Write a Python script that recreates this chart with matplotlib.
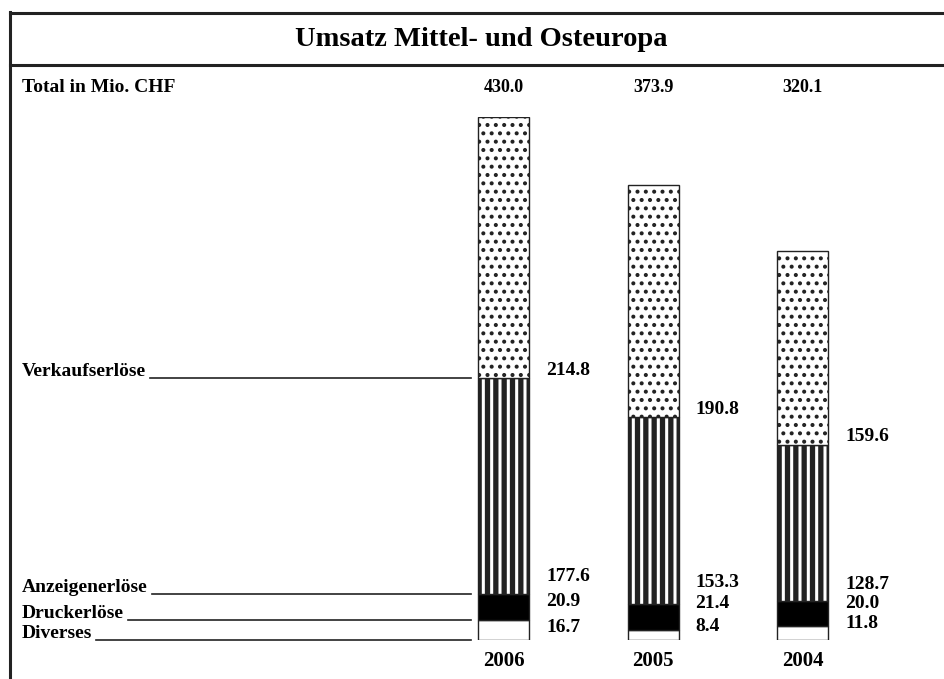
import matplotlib
matplotlib.use("Agg")
import matplotlib.pyplot as plt
import numpy as np
from matplotlib.lines import Line2D

years = ["2006", "2005", "2004"]
totals = [430.0, 373.9, 320.1]
categories = ["Diverses", "Druckerlöse", "Anzeigenerlöse", "Verkaufserlöse"]
diverses = [16.7, 8.4, 11.8]
druck = [20.9, 21.4, 20.0]
anzeigen = [177.6, 153.3, 128.7]
verkauf = [214.8, 190.8, 159.6]

# label heights (data units) for the lower three value labels, per bar
lab_y_anz = [51.8, 46.9, 46.0]
lab_y_druck = [32.0, 30.4, 29.6]
lab_y_div = [9.9, 11.5, 13.5]

W, H = 944, 679
fig = plt.figure(figsize=(W / 100, H / 100), dpi=100)
fig.patch.set_facecolor("white")

label_font = ["Liberation Serif", "DejaVu Serif"]
num_font = ["Liberation Serif", "DejaVu Serif"]

# axes: y=0 at pixel 640, y=430 at pixel 117, bar centres 503.5 / 653 / 802.5 px
ax = fig.add_axes([0, (H - 640) / H, 1, 523 / H])
c0, step = 503.5, 149.5
ax.set_xlim(-c0 / step, (W - c0) / step)
ax.set_ylim(0, 430)
ax.axis("off")

x = np.arange(len(years))
bw = 51 / step
bottom = np.zeros(len(years))
styles = [
    dict(color="white", hatch=None, hlw=1.0),
    dict(color="black", hatch=None, hlw=1.0),
    dict(color="white", hatch="||", hlw=3.8),
    dict(color="white", hatch="..", hlw=1.7),
]
for vals, st in zip([diverses, druck, anzeigen, verkauf], styles):
    plt.rcParams["hatch.linewidth"] = st["hlw"]
    bars = ax.bar(x, vals, bw, bottom=bottom, color=st["color"], edgecolor="#222222",
                  hatch=st["hatch"], linewidth=1.0)
    for p in bars:
        if hasattr(p, "set_hatch_linewidth"):
            p.set_hatch_linewidth(st["hlw"])
    bottom += np.array(vals)

# value labels right of each bar
for i in range(len(years)):
    xl = i + bw / 2 + 17 / step
    ytop_anz = diverses[i] + druck[i] + anzeigen[i]
    for val, yy in [(verkauf[i], ytop_anz + 6.5), (anzeigen[i], lab_y_anz[i]),
                    (druck[i], lab_y_druck[i]), (diverses[i], lab_y_div[i])]:
        ax.text(xl, yy, f"{val:.1f}", family=num_font, fontsize=14,
                fontweight="bold", ha="left", va="center")
    # totals and years
    fig.text((c0 + i * step) / W, 1 - 87 / H, f"{totals[i]:.1f}", family=num_font,
             fontsize=13, fontweight="bold", ha="center", va="center")
    fig.text((c0 + i * step) / W, 1 - 661 / H, years[i], family=num_font,
             fontsize=15, fontweight="bold", ha="center", va="center")

# frame and title
fig.add_artist(Line2D([10 / W, 10 / W], [0, 1 - 12 / H], color="#222222", lw=2.2))
fig.add_artist(Line2D([10 / W, 1], [1 - 12.5 / H, 1 - 12.5 / H], color="#222222", lw=2.2))
fig.add_artist(Line2D([10 / W, 1], [1 - 64.5 / H, 1 - 64.5 / H], color="#222222", lw=2.2))
fig.text(481 / W, 1 - 39 / H, "Umsatz Mittel- und Osteuropa", family=label_font,
         fontsize=20.5, fontweight="bold", ha="center", va="center")
fig.text(22 / W, 1 - 87 / H, "Total in Mio. CHF", family=label_font,
         fontsize=14, fontweight="bold", ha="left", va="center")

# category labels with leader lines to the 2006 bar
lead_y = [0, diverses[0], diverses[0] + druck[0], diverses[0] + druck[0] + anzeigen[0]]
fig.canvas.draw()
renderer = fig.canvas.get_renderer()
for cat, ly in zip(categories, lead_y):
    yd = ax.transData.transform((0, ly))[1] / H
    t = fig.text(22 / W, yd + 2 / H, cat, family=label_font, fontsize=14,
                 fontweight="bold", ha="left", va="baseline")
    bb = t.get_window_extent(renderer)
    fig.add_artist(Line2D([(bb.x1 + 4) / W, 471 / W], [yd, yd], color="#222222", lw=1.2))

fig.savefig("out.png", dpi=100)
